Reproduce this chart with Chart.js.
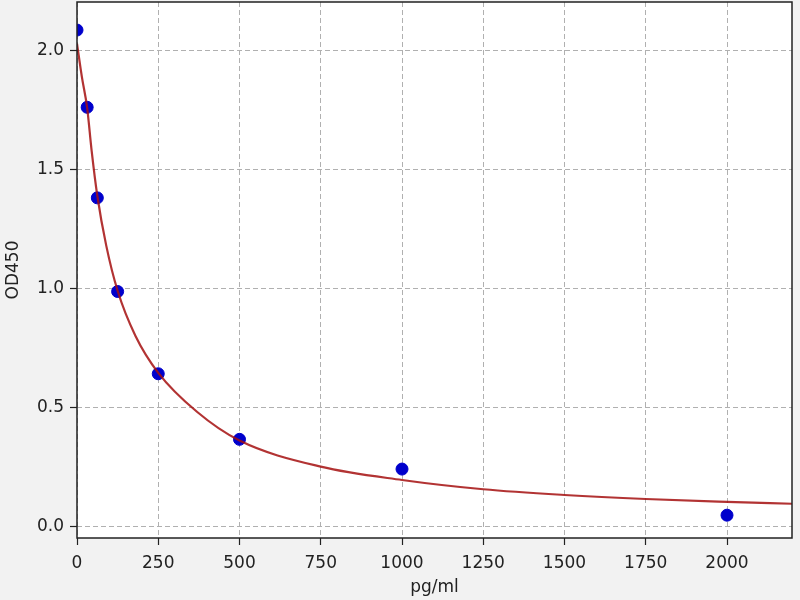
<!DOCTYPE html>
<html>
<head>
<meta charset="utf-8">
<title>OD450 standard curve</title>
<script src="https://cdn.jsdelivr.net/npm/chart.js@4"></script>
<style>
  html, body { margin: 0; padding: 0; background: #f2f2f2; }
  canvas { display: block; }
</style>
</head>
<body>
<canvas id="curveChart" width="800" height="600"></canvas>
<script>
// standards (pg/ml) and measured OD450
const concentrations = [0, 31.25, 62.5, 125, 250, 500, 1000, 2000];
const odValues = [2.087, 1.762, 1.381, 0.987, 0.641, 0.365, 0.240, 0.046];

// fitted curve
const curveX = [0, 15, 31.25, 45, 62.5, 90, 125, 180, 250, 370, 500, 750, 1000, 1250, 1500, 1750, 2000, 2200];
const curveY = [2.03, 1.89, 1.76, 1.58, 1.39, 1.18, 0.99, 0.80, 0.645, 0.48, 0.36, 0.25, 0.194, 0.155, 0.131, 0.114, 0.102, 0.094];

// tick labels
const xTicks = [0, 250, 500, 750, 1000, 1250, 1500, 1750, 2000];
const yTicks = [0, 0.5, 1.0, 1.5, 2.0];

const toPoints = (xs, ys) => xs.map((x, i) => ({ x: x, y: ys[i] }));

// gray page, white plot area, frame round it
const plotBackground = {
    id: 'plotBackground',
    beforeDraw(chart) {
        const { ctx, chartArea: a } = chart;
        ctx.save();
        ctx.fillStyle = '#f2f2f2';
        ctx.fillRect(0, 0, chart.width, chart.height);
        ctx.fillStyle = '#ffffff';
        ctx.fillRect(a.left, a.top, a.right - a.left, a.bottom - a.top);
        ctx.restore();
    },
    afterDraw(chart) {
        const { ctx, chartArea: a } = chart;
        ctx.save();
        ctx.strokeStyle = '#222222';
        ctx.lineWidth = 1.5;
        ctx.strokeRect(a.left, a.top, a.right - a.left, a.bottom - a.top);
        ctx.restore();
    }
};

const tickFont = { family: 'DejaVu Sans', size: 17 };

const ctx = document.getElementById('curveChart').getContext('2d');
const curveChart = new Chart(ctx, {
    type: 'scatter',
    data: {
        datasets: [{
            label: 'fit',
            data: toPoints(curveX, curveY),
            showLine: true,
            borderColor: 'rgba(165, 15, 15, 0.85)',
            borderWidth: 2.2,
            pointRadius: 0,
            cubicInterpolationMode: 'monotone',
            order: 0
        }, {
            label: 'standards',
            data: toPoints(concentrations, odValues),
            backgroundColor: '#0000cc',
            borderColor: '#0000cc',
            borderWidth: 1,
            pointRadius: 6,
            order: 1
        }]
    },
    options: {
        responsive: false,
        animation: false,
        devicePixelRatio: 1,
        layout: { autoPadding: false, padding: { top: 2, right: 8, left: 0, bottom: 0 } },
        plugins: {
            legend: { display: false },
            tooltip: { enabled: false }
        },
        scales: {
            x: {
                type: 'linear',
                min: 0,
                max: 2200,
                afterBuildTicks: scale => { scale.ticks = xTicks.map(v => ({ value: v })); },
                afterFit: scale => { scale.height = 62; scale.paddingLeft = 0; scale.paddingRight = 0; },
                ticks: { font: tickFont, color: '#222222', padding: 8, maxRotation: 0, callback: v => String(v) },
                grid: { color: '#b0b0b0', tickColor: '#222222', tickLength: 7, tickWidth: 1.2, tickBorderDash: [] },
                border: { display: false, dash: [5, 3] },
                title: { display: true, text: 'pg/ml', font: tickFont, color: '#222222', padding: { top: 0, bottom: 2 } }
            },
            y: {
                type: 'linear',
                min: -0.05,
                max: 2.205,
                afterBuildTicks: scale => { scale.ticks = yTicks.map(v => ({ value: v })); },
                afterFit: scale => { scale.width = 77; scale.paddingTop = 0; scale.paddingBottom = 0; },
                ticks: { font: tickFont, color: '#222222', padding: 6, callback: v => v.toFixed(1) },
                grid: { color: '#b0b0b0', tickColor: '#222222', tickLength: 7, tickWidth: 1.2, tickBorderDash: [] },
                border: { display: false, dash: [5, 3] },
                title: { display: true, text: 'OD450', font: tickFont, color: '#222222', padding: { top: 3, bottom: 0 } }
            }
        }
    },
    plugins: [plotBackground]
});
</script>
</body>
</html>
